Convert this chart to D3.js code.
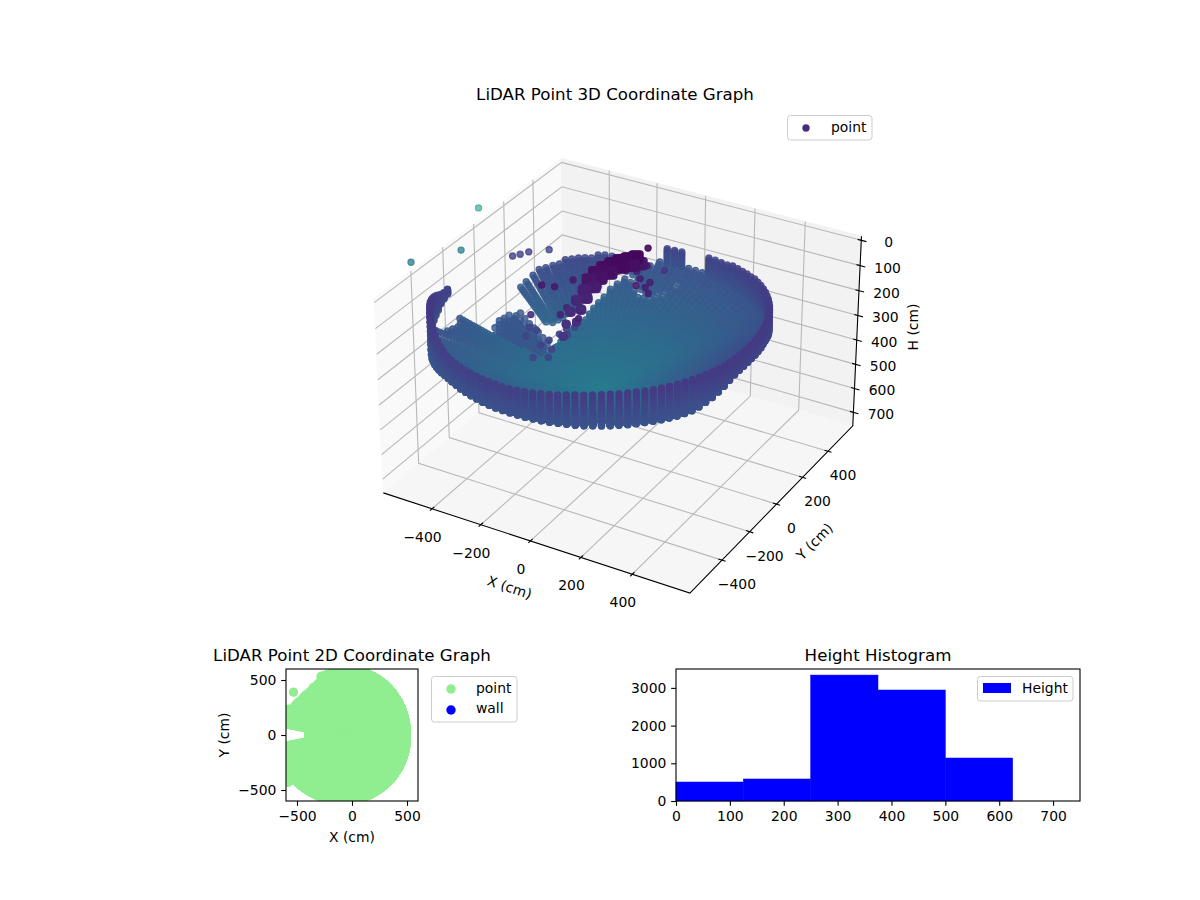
<!DOCTYPE html>
<html><head><meta charset="utf-8">
<script src="https://d3js.org/d3.v7.min.js"></script>
<style>html,body{margin:0;background:#fff}svg{display:block}text{font-family:"DejaVu Sans";fill:#000;font-size:13.9px}</style>
</head><body><svg id="c" width="1200" height="900"></svg>
<script>
// ---- tick labels / limits
const xyTicks=[-400,-200,0,200,400];
const hTicks=[0,100,200,300,400,500,600,700];
const xDomain3d=[-603,620], yDomain3d=[-624,601], hDomain3d=[-16,757];
const plan2dTicks=[-500,0,500];
const histEdges=[0,125,250,375,500,625];
const histCounts=[504,584,3340,2944,1140];
const histXTicks=[0,100,200,300,400,500,600,700];
const histYTicks=[0,1000,2000,3000];
// ---- scan geometry: one spoke per 2.8125 degrees
const spokeStepDeg=2.8125;
const scanCentre=[-90,0];
const floorCentreH=610;
const heightOffset=79;
const rimRadius=[
584,584,585,585,586,586,587,588,589,590,591,592,593,594,595,596,
597,598,598,599,599,600,600,600,600,599,598,597,596,595,594,593,
592,591,590,590,590,590,590,590,590,590,590,590,590,590,590,590,
590,590,590,590,590,590,590,590,590,590,588,586,584,582,580,580,
580,580,580,582,584,585,586,587,588,589,590,590,590,590,590,590,
590,590,590,590,590,590,591,591,592,592,593,593,594,594,595,595,
595,595,596,596,596,596,596,596,596,596,595,595,595,595,595,594,
594,594,594,593,593,592,592,591,590,590,589,588,587,586,585,584];
const wallTop=[
250,250,250,250,250,250,251,252,253,254,255,256,258,260,262,264,
266,268,270,272,278,281,284,286,288,296,298,299,300,0,0,0,
310,310,310,0,0,0,0,0,0,0,0,0,0,0,0,0,
0,0,0,0,0,0,0,0,0,0,0,0,0,0,0,0,
0,0,0,300,300,292,280,268,258,250,244,240,238,238,244,250,
258,265,272,278,282,285,285,285,284,283,282,281,280,279,278,278,
277,275,272,270,267,265,262,259,256,255,254,253,252,252,251,251,
251,251,251,251,250,250,250,250,250,250,250,250,250,250,250,250];
const rimFloorH=[
305,305,306,307,308,310,313,318,325,332,338,345,350,355,360,365,
370,370,370,370,370,370,370,370,370,370,370,370,370,370,370,370,
370,370,370,370,370,370,370,370,370,370,370,370,370,370,370,370,
370,370,370,370,370,370,370,370,370,370,370,370,370,370,370,370,
370,370,370,320,325,330,340,345,350,370,385,395,402,405,405,400,
395,390,385,380,375,372,370,370,370,370,370,370,371,371,371,371,
371,371,371,371,372,372,372,372,373,373,373,373,373,373,373,373,
373,373,373,373,373,372,370,365,358,350,340,330,320,312,308,306];
const wallLevels=[0,.11,.22,.33,.44,.55,.66,.77,.88,1];
const floorRings=[1,.98,.96,.94,.92,.9,.88,.86,.84,.82,.8,.78,.76,.74,.72,.7,.68,.66,.64,.62,.6,.58,.56,.54,.52,.5,.48,.46,.44,.42,.4,.38,.36,.34,.32,.3,.28,.26,.24,.22,.2,.18,.16,.14,.12,.1,.08,.06,.04,.02];
// spokes where the floor is broken by the sensor's shadow
const gapSpokes =[31,32,33,34,35,36,37,38,39,40,41,42,43,44,45,46,47,48,49,50,51,52,53,54,55,56,57,58,59,60,61,62,63,64,65,66,67,68,69,70,71,72];
const gapNearEnd=[.84,.76,.74,.72,.72,.72,.76,.82,.84,.80,.76,.70,.66,.62,.58,.55,.53,.52,.50,.49,.47,.46,.44,.43,.42,.41,.40,.40,.39,.39,.38,.38,.38,.38,.38,.38,.5,.9,.88,.88,.9,.92];
const gapFarFrom=[.88,.80,.78,.76,.76,.78,.84,.88,.90,.86,.84,.78,.74,.72,.70,.67,.64,.62,.60,.58,.57,.56,.56,.55,.57,2,2,2,2,2,2,2,2,2,2,2,2,2,2,2,2,2];
const gapFarTo  =[1,1,1,1,1,.97,.97,.97,.97,.97,.97,.97,.96,.95,.95,.95,.94,.94,.93,.93,.92,.92,.91,.89,.87,2,2,2,2,2,2,2,2,2,2,2,2,2,2,2,2,2];
// straight cut of the outer edge on the upper left: distance from the centre, direction
const chordDistance=491, chordDeg=134;
// returns on the left beside the shadow: spoke, how far out it runs, how much it lifts
const shelfSpokes=[55,56,57,58,59,60,61,62,63,64,65,66];
const shelfEnd   =[.92,.92,.92,.92,.9,.88,.52,.52,.52,.52,.52,.52];
const shelfLift  =[0,14,-8,8,-6,12,0,0,0,0,0,0];
const shelfRho   =[.47,.52,.57,.62,.67,.72,.77,.82,.87,.92];
const shelfTopH  =[620,633,555,547,538,534,530,522,513,538];
const shelfLevels=[0,30,60,90];
const shelfColour=.27;
// dark ridge close to the sensor: spine points x, y, H, width and colour value
const ridgeX=[26,9,-13,-30,-45,-60,-67,-39,-18,6,25,25,-64,-44,-68,-45,-65,-41,-52,-29,-36];
const ridgeY=[52,26,8,-17,-47,-76,-108,-85,-52,-10,26,82,-147,-112,-191,-161,-238,-208,-288,-258,-335];
const ridgeH=[50,50,55,60,65,75,90,85,75,65,70,90,110,110,130,130,150,150,170,170,190];
const ridgeSpan=[1,1,1,1,1,1,1,1,1,1,1,1,.7,.7,.5,.5,.4,.4,.2,.2,.2];
const ridgeC=[.02,.02,.025,.03,.035,.04,.06,.05,.04,.03,.04,.06,.09,.08,.11,.1,.13,.12,.15,.14,.16];
const ridgeAcross=[-14,-7,0,7,14];
const ridgeDepth=[-12,0,12];
// loose returns: x, y, H
const looseX=[43,89,86,6,3,55,119,-207,-162,-132,-241,-85,-91,-17,-169,-162,-153,-125,-149,-148,-103,-122,-132,-246,-236,-267,39,44,-13];
const looseY=[51,6,45,94,134,2,-26,-191,-180,-107,-210,-271,-219,-264,-265,-221,-167,-159,-125,-349,-323,-270,-99,-236,-183,-177,113,98,324];
const looseH=[130,130,130,130,130,130,130,108,108,108,224,151,151,151,297,297,297,297,297,297,297,297,297,297,297,297,40,100,240];
// isolated outliers: x, y, H, colour value, opacity
const outX=[-662,-560,-580,-532,-508,-478,-448];
const outY=[125,-150,-430,390,102,105,115];
const outH=[70,86,9,325,212,198,185];
const outC=[.56,.42,.4,.2,.19,.19,.19];
const outA=[.6,.75,.75,.8,.8,.8,.8];
const colourMaxH=1450;

// ---- scales
const svg=d3.select('#c');
const boxXY=1.19048, boxBottom=-.44643, boxTop=.31;
const xBox=d3.scaleLinear().domain(xDomain3d).range([-boxXY/2,boxXY/2]);
const yBox=d3.scaleLinear().domain(yDomain3d).range([-boxXY/2,boxXY/2]);
const hBox=d3.scaleLinear().domain(hDomain3d).range([boxTop,boxBottom]);
const screenX=d3.scaleLinear().domain([-.1,.1]).range([622.4-295,622.4+295]);
const screenY=d3.scaleLinear().domain([-.1,.1]).range([347.2+295,347.2-295]);
function project(x,y,h){
  const qx=xBox(x),qy=yBox(y),qz=hBox(h);
  const u=.866025*qx+.5*qy, v=-.25*qx+.433013*qy+.866025*qz, w=.433013*qx-.75*qy+.5*qz, d=10-w;
  return {sx:screenX(u/d),sy:screenY(v/d),d};
}
const [x0,x1]=xDomain3d,[y0,y1]=yDomain3d,[h0,h1]=hDomain3d;
const line3=d3.line().x(p=>project(...p).sx).y(p=>project(...p).sy);
const seg=(g,pts,col,w)=>g.append('path').attr('d',line3(pts)).attr('fill','none').attr('stroke',col).attr('stroke-width',w);

// ---- build the 3D point list: [x, y, H, colour value, opacity]
const pts=[];
const addPoint=(x,y,h,c,a)=>pts.push([x,y,h-heightOffset,c!==undefined?c:h/colourMaxH,a]);
rimRadius.forEach((R,i)=>{
  const deg=i*spokeStepDeg, a=deg*Math.PI/180, c=Math.cos(a), s=Math.sin(a);
  const rimH=rimFloorH[i];
  const rimPosX=scanCentre[0]+R*c, rimPosY=scanCentre[1]+R*s;
  if(wallTop[i]>0) wallLevels.forEach(l=>addPoint(rimPosX,rimPosY,wallTop[i]+(rimH-wallTop[i])*l));
  const g=gapSpokes.indexOf(i);
  const baseH=Math.max(rimH,i>60&&i<80?370:0);
  floorRings.forEach(rho=>{
    if(rho<.12&&i%4) return;
    if(rho<.3&&i%2) return;
    const far=g>=0&&rho>=gapFarFrom[g]&&rho<=gapFarTo[g];
    if(g>=0&&!(rho<=gapNearEnd[g]||far)) return;
    let r=R*rho, h=floorCentreH+(baseH-floorCentreH)*rho;
    if(far&&i>=40){
      const k=Math.min(1,chordDistance/Math.cos((deg-chordDeg)*Math.PI/180)/(R*gapFarTo[g]));
      h-=r-r*k; r*=k;
    }
    addPoint(scanCentre[0]+r*c,scanCentre[1]+r*s,h);
  });
});
shelfSpokes.forEach((i,k)=>{
  const a=i*spokeStepDeg*Math.PI/180, R=rimRadius[i];
  shelfRho.forEach((rho,j)=>{
    if(rho>shelfEnd[k]) return;
    shelfLevels.forEach(l=>addPoint(scanCentre[0]+R*rho*Math.cos(a),scanCentre[1]+R*rho*Math.sin(a),shelfTopH[j]+shelfLift[k]+l,shelfColour));
  });
});
ridgeX.forEach((x,i)=>ridgeAcross.forEach(o=>ridgeDepth.forEach(dh=>{
  const w=ridgeSpan[i];
  addPoint(x+o*.866*w,ridgeY[i]+o*.5*w,ridgeH[i]+dh*w,ridgeC[i]);
})));
looseX.forEach((x,i)=>addPoint(x,looseY[i],looseH[i]));
outX.forEach((x,i)=>addPoint(x,outY[i],outH[i],outC[i],outA[i]));

// ---- 3D panes, grid, axes
const g3=svg.append('g');
const pane=(corners,col)=>g3.append('path').attr('d',line3(corners)+'Z').attr('fill',col).attr('stroke',col);
pane([[x0,y0,h0],[x0,y1,h0],[x0,y1,h1],[x0,y0,h1]],'#f9f9f9');
pane([[x0,y1,h0],[x1,y1,h0],[x1,y1,h1],[x0,y1,h1]],'#f2f2f2');
pane([[x0,y0,h1],[x1,y0,h1],[x1,y1,h1],[x0,y1,h1]],'#f6f6f6');
const gridCol='#b8b8b8';
xyTicks.forEach(t=>{
  seg(g3,[[t,y0,h1],[t,y1,h1],[t,y1,h0]],gridCol,1.1);
  seg(g3,[[x1,t,h1],[x0,t,h1],[x0,t,h0]],gridCol,1.1);
});
hTicks.forEach(t=>seg(g3,[[x0,y0,t],[x0,y1,t],[x1,y1,t]],gridCol,1.1));
seg(g3,[[x0,y0,h1],[x1,y0,h1],[x1,y1,h1],[x1,y1,h0]],'#000',1.1);
xyTicks.forEach(t=>{
  seg(g3,[[t,y0-14,h1],[t,y0+14,h1]],'#000',1.1);
  seg(g3,[[x1+14,t,h1],[x1-14,t,h1]],'#000',1.1);
  const a=project(t,y0,h1), b=project(x1,t,h1);
  svg.append('text').attr('x',a.sx-9.5).attr('y',a.sy+33).attr('text-anchor','middle').text(d3.format('d')(t));
  svg.append('text').attr('x',b.sx+15).attr('y',b.sy+29).attr('text-anchor','middle').text(d3.format('d')(t));
});
hTicks.forEach(t=>{
  seg(g3,[[x1-14,y1,t],[x1+20,y1,t]],'#000',1.1);
  const p=project(x1,y1,t);
  svg.append('text').attr('x',p.sx+27.5).attr('y',p.sy+7).attr('text-anchor','middle').text(t);
});

// ---- 3D points, painted far to near
const viridis=d3.interpolateViridis;
const zs=pts.map(p=>({p,q:project(p[0],p[1],p[2])})).sort((a,b)=>b.q.d-a.q.d);
const shade=d3.scaleLinear().domain([10.55,9.5]).range([.8,1]).clamp(true);
svg.append('g').selectAll('circle').data(zs).join('circle')
  .attr('cx',d=>d.q.sx).attr('cy',d=>d.q.sy).attr('r',3.1)
  .attr('fill',d=>viridis(d.p[3])).attr('stroke',d=>viridis(d.p[3])).attr('stroke-width',1.2)
  .attr('fill-opacity',d=>d.p[4]||shade(d.q.d)).attr('stroke-opacity',d=>d.p[4]||shade(d.q.d));

// ---- 3D text
const text=(x,y,s,o={})=>{const t=svg.append('text').attr('x',x).attr('y',y).attr('text-anchor',o.anchor||'middle').text(s);
  if(o.size)t.style('font-size',o.size+'px'); if(o.rot!==undefined)t.attr('transform',`rotate(${o.rot} ${x} ${y})`); return t;};
text(615,100,'LiDAR Point 3D Coordinate Graph',{size:16.67});
text(508,592,'X (cm)',{rot:18.3});
text(818,545,'Y (cm)',{rot:-45.5});
text(918,327,'H (cm)',{rot:-90});
const legend=(x,y,w,h)=>svg.append('rect').attr('x',x).attr('y',y).attr('width',w).attr('height',h).attr('rx',3).attr('fill','#fff').attr('fill-opacity',.8).attr('stroke','#ccc');
legend(787.5,115.5,84.5,24.5);
svg.append('circle').attr('cx',806).attr('cy',128).attr('r',3.7).attr('fill',viridis(.14));
text(831,132,'point',{anchor:'start'});

// ---- shared 2D axis frame
function frame(g,x,y,xt,yt,l,t,w,h){
  const fmt=d3.format('d');
  const ax=svg.append('g').attr('transform',`translate(0,${t+h})`).call(d3.axisBottom(x).tickValues(xt).tickFormat(fmt).tickSizeOuter(0).tickSize(4.86).tickPadding(4.8));
  const ay=svg.append('g').attr('transform',`translate(${l},0)`).call(d3.axisLeft(y).tickValues(yt).tickFormat(fmt).tickSizeOuter(0).tickSize(4.86).tickPadding(4.8));
  [ax,ay].forEach(a=>{a.select('.domain').remove();a.selectAll('line').attr('stroke','#000').attr('stroke-width',1.1);a.selectAll('text').style('font-family','DejaVu Sans').style('font-size','13.9px').attr('fill','#000');});
  svg.append('rect').attr('x',l).attr('y',t).attr('width',w).attr('height',h).attr('fill','none').attr('stroke','#000').attr('stroke-width',1.1);
}

// ---- 2D plan view
const x2=d3.scaleLinear().domain([-600,600]).range([286,418]);
const y2=d3.scaleLinear().domain([-600,600]).range([801,669]);
const defs=svg.append('defs');
defs.append('clipPath').attr('id','clip2').append('rect').attr('x',286).attr('y',669).attr('width',132).attr('height',132);
svg.append('g').attr('clip-path','url(#clip2)').selectAll('circle').data(pts).join('circle')
  .attr('cx',p=>x2(p[0])).attr('cy',p=>y2(p[1])).attr('r',4.7).attr('fill','#90ee90');
frame(svg,x2,y2,plan2dTicks,plan2dTicks,286,669,132,132);
text(352,661,'LiDAR Point 2D Coordinate Graph',{size:16.67});
text(352,842,'X (cm)');
text(229,735,'Y (cm)',{rot:-90});
legend(431.5,676.5,85.5,45.5);
svg.append('circle').attr('cx',451).attr('cy',689).attr('r',4.7).attr('fill','#90ee90');
svg.append('circle').attr('cx',451).attr('cy',710).attr('r',4.7).attr('fill','#0000ff');
text(476,693,'point',{anchor:'start'});
text(476,713,'wall',{anchor:'start'});

// ---- histogram
const xh=d3.scaleLinear().domain([0,750]).range([676,1080]);
const yh=d3.scaleLinear().domain([0,3501]).range([801,669]);
svg.append('g').selectAll('rect').data(histCounts).join('rect')
  .attr('x',(d,i)=>xh(histEdges[i])).attr('width',(d,i)=>xh(histEdges[i+1])-xh(histEdges[i]))
  .attr('y',d=>yh(d)).attr('height',d=>yh(0)-yh(d)).attr('fill','#0000ff').attr('stroke','#0000ff').attr('stroke-width',.5);
frame(svg,xh,yh,histXTicks,histYTicks,676,669,404,132);
text(878,661,'Height Histogram',{size:16.67});
legend(977.5,676.5,95.5,24.5);
svg.append('rect').attr('x',983).attr('y',683).attr('width',28).attr('height',10).attr('fill','#0000ff');
text(1022,693,'Height',{anchor:'start'});
</script></body></html>
